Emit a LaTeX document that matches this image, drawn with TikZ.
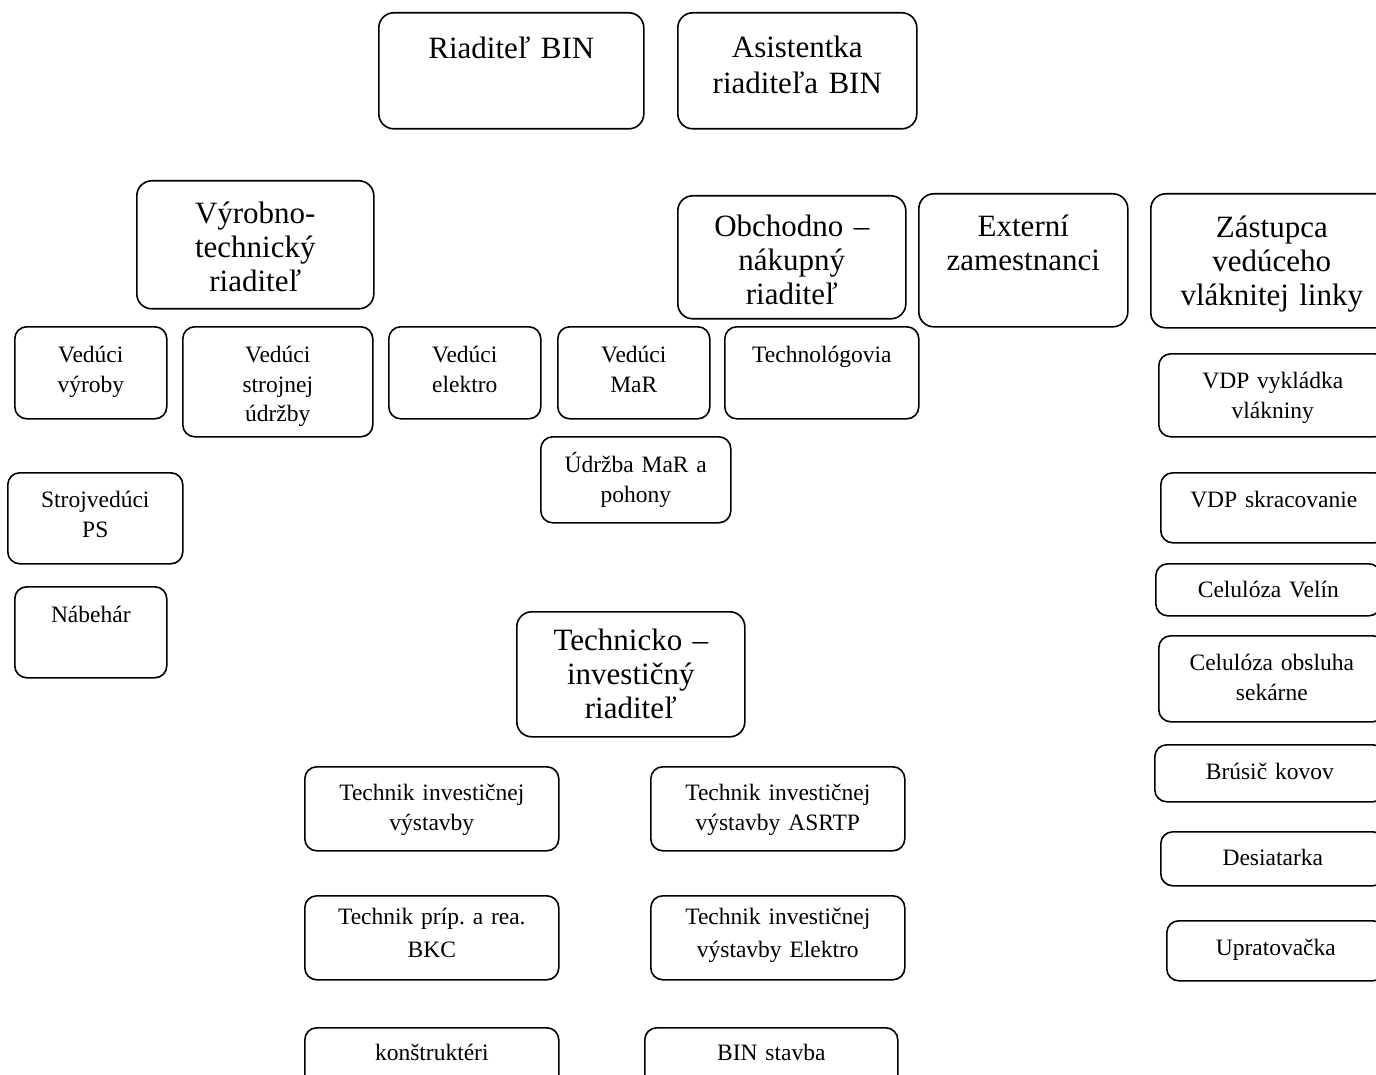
\documentclass[tikz,border=0pt]{standalone}
\usepackage{fontspec}
\setmainfont{Liberation Serif}
\usepackage{tikz}
\frenchspacing

\begin{document}
\begin{tikzpicture}[x=1pt,y=-1pt,line width=1.6pt]
      \tikzstyle{box}=[draw,rounded corners=15pt,anchor=north west,inner sep=0pt,align=center]
      \tikzstyle{big}=[box,font=\fontsize{31}{34}\selectfont]
      \tikzstyle{small}=[box,rounded corners=12pt,font=\fontsize{23.5}{29.5}\selectfont]

      \useasboundingbox (0,0) rectangle (1376,1075);

      \node[big,text width=265pt,text height=46pt,text depth=70pt] (dir)     at (378,12)  {Riaditeľ BIN};
      \node[big,text width=239pt,text height=45pt,text depth=71pt,
            font=\fontsize{31}{36}\selectfont]                       (asist)   at (677,12)  {Asistentka\\riaditeľa BIN};

      \node[big,text width=237pt,text height=43pt,text depth=85pt] (vyrtech) at (136,180) {Výrobno-\\technický\\riaditeľ};
      \node[big,text width=228pt,text height=41pt,text depth=82pt] (obch)    at (677,195) {Obchodno –\\nákupný\\riaditeľ};
      \node[big,text width=209pt,text height=43pt,text depth=90pt] (ext)     at (918,193) {Externí\\zamestnanci};
      \node[big,text width=242pt,text height=44pt,text depth=90pt] (zast)    at (1150,193) {Zástupca\\vedúceho\\vláknitej linky};

      \node[small,text width=152pt,text height=36pt,text depth=56pt] (vvyr)   at (14,326)  {Vedúci\\výroby};
      \node[small,text width=190pt,text height=36pt,text depth=74pt] (vstroj) at (182,326) {Vedúci\\strojnej\\údržby};
      \node[small,text width=152pt,text height=36pt,text depth=56pt] (velek)  at (388,326) {Vedúci\\elektro};
      \node[small,text width=152pt,text height=36pt,text depth=56pt] (vmar)   at (557,326) {Vedúci\\MaR};
      \node[small,text width=194pt,text height=36pt,text depth=56pt] (techno) at (724,326) {Technológovia};
      \node[small,text width=190pt,text height=36pt,text depth=50pt] (udrmar) at (540,436) {Údržba MaR a\\pohony};

      \node[small,text width=175pt,text height=35pt,text depth=56pt] (strv)   at (7,472)   {Strojvedúci\\PS};
      \node[small,text width=152pt,text height=36pt,text depth=55pt] (nab)    at (14,586)  {Nábehár};

      \node[big,text width=228pt,text height=39pt,text depth=86pt] (techinv) at (516,611) {Technicko –\\investičný\\riaditeľ};

      \node[small,text width=254pt,text height=34pt,text depth=50pt] (tiv)    at (304,766) {Technik investičnej\\výstavby};
      \node[small,text width=254pt,text height=34pt,text depth=50pt] (tiva)   at (650,766) {Technik investičnej\\výstavby ASRTP};
      \node[small,text width=254pt,text height=29pt,text depth=55pt,
            font=\fontsize{23.5}{33}\selectfont]                       (tpr)    at (304,895) {Technik príp. a rea.\\BKC};
      \node[small,text width=254pt,text height=29pt,text depth=55pt,
            font=\fontsize{23.5}{33}\selectfont]                       (tive)   at (650,895) {Technik investičnej\\výstavby Elektro};
      \node[small,text width=254pt,text height=33pt,text depth=35pt] (kon)    at (304,1027) {konštruktéri};
      \node[small,text width=253pt,text height=33pt,text depth=35pt] (bin)    at (644,1027) {BIN stavba};

      \node[small,text width=228pt,text height=35pt,text depth=48pt] (vdpv)   at (1158,353) {VDP vykládka\\vlákniny};
      \node[small,text width=226pt,text height=35pt,text depth=35pt] (vdps)   at (1160,472) {VDP skracovanie};
      \node[small,text width=225pt,text height=34pt,text depth=18pt] (celv)   at (1155,563) {Celulóza Velín};
      \node[small,text width=226pt,text height=35pt,text depth=51pt] (celo)   at (1158,635) {Celulóza obsluha\\sekárne};
      \node[small,text width=230pt,text height=35pt,text depth=22pt] (brus)   at (1154,744) {Brúsič kovov};
      \node[small,text width=224pt,text height=34pt,text depth=20pt] (des)    at (1160,831) {Desiatarka};
      \node[small,text width=218pt,text height=35pt,text depth=25pt] (upr)    at (1166,920) {Upratovačka};

\end{tikzpicture}
\end{document}
